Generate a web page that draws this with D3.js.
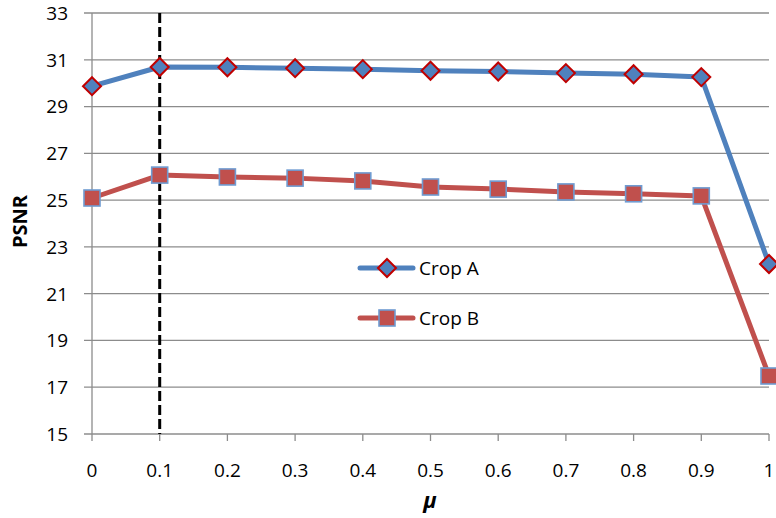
<!DOCTYPE html>
<html lang="en">
<head>
    <meta charset="UTF-8">
    <title>PSNR vs mu</title>
    <script src="https://d3js.org/d3.v7.min.js"></script>
    <style>
        body { margin: 0; background: #fff; }
        svg text { font-family: "Open Sans", "Lato", sans-serif; fill: #000; }
    </style>
</head>
<body>
    <div id="chart"></div>
    <script>
        // Data
        const muValues = [0, 0.1, 0.2, 0.3, 0.4, 0.5, 0.6, 0.7, 0.8, 0.9, 1];
        const cropA = [29.87, 30.69, 30.68, 30.64, 30.60, 30.53, 30.50, 30.43, 30.38, 30.26, 22.27];
        const cropB = [25.09, 26.07, 25.99, 25.94, 25.82, 25.56, 25.47, 25.35, 25.27, 25.18, 17.48];
        const xTicks = ["0", "0.1", "0.2", "0.3", "0.4", "0.5", "0.6", "0.7", "0.8", "0.9", "1"];
        const yTicks = [15, 17, 19, 21, 23, 25, 27, 29, 31, 33];
        const seriesNames = ["Crop A", "Crop B"];
        const markedMu = 0.1;

        const W = 776, H = 518;
        const plot = {left: 92, right: 769, top: 13, bottom: 434};

        const x = d3.scaleLinear().domain([0, 1]).range([plot.left, plot.right]);
        const y = d3.scaleLinear().domain([15, 33]).range([plot.bottom, plot.top]);

        const svg = d3.select("#chart").append("svg")
            .attr("width", W)
            .attr("height", H);

        // gridlines
        svg.append("g").selectAll("line")
            .data(yTicks)
            .join("line")
            .attr("x1", plot.left - 8)
            .attr("x2", plot.right)
            .attr("y1", d => y(d))
            .attr("y2", d => y(d))
            .attr("stroke", "#8c8c8c")
            .attr("stroke-width", 1.3);

        // y axis line
        svg.append("line")
            .attr("x1", plot.left).attr("x2", plot.left)
            .attr("y1", plot.top).attr("y2", plot.bottom)
            .attr("stroke", "#8c8c8c")
            .attr("stroke-width", 1.3);

        // x ticks
        svg.append("g").selectAll("line")
            .data(muValues)
            .join("line")
            .attr("x1", d => x(d)).attr("x2", d => x(d))
            .attr("y1", plot.bottom).attr("y2", plot.bottom + 7)
            .attr("stroke", "#8c8c8c")
            .attr("stroke-width", 1.3);

        // tick labels
        svg.append("g").selectAll("text")
            .data(yTicks)
            .join("text")
            .attr("x", plot.left - 24)
            .attr("y", d => y(d))
            .attr("dy", "0.36em")
            .attr("text-anchor", "end")
            .attr("font-size", "19px")
            .text(d => d);

        svg.append("g").selectAll("text")
            .data(muValues)
            .join("text")
            .attr("x", d => x(d))
            .attr("y", plot.bottom + 43)
            .attr("text-anchor", "middle")
            .attr("font-size", "19px")
            .text((d, i) => xTicks[i]);

        // axis titles
        svg.append("text")
            .attr("transform", `translate(27,${(plot.top + plot.bottom) / 2 - 2}) rotate(-90)`)
            .attr("text-anchor", "middle")
            .attr("font-size", "20px")
            .attr("font-weight", "bold")
            .text("PSNR");

        svg.append("text")
            .attr("x", 430)
            .attr("y", 508)
            .attr("text-anchor", "middle")
            .attr("font-size", "22px")
            .attr("font-weight", "bold")
            .attr("font-style", "italic")
            .text("μ");

        // dashed marker line
        svg.append("line")
            .attr("x1", x(markedMu)).attr("x2", x(markedMu))
            .attr("y1", plot.top).attr("y2", plot.bottom)
            .attr("stroke", "#000")
            .attr("stroke-width", 3)
            .attr("stroke-dasharray", "10,4");

        const line = d3.line()
            .x((d, i) => x(muValues[i]))
            .y(d => y(d));

        const blue = "#4f81bd", red = "#c0504d";

        function diamond(g, cx, cy) {
            g.append("path")
                .attr("d", `M${cx},${cy - 9}L${cx + 9},${cy}L${cx},${cy + 9}L${cx - 9},${cy}Z`)
                .attr("fill", blue)
                .attr("stroke", "#c00000")
                .attr("stroke-width", 2);
        }

        function square(g, cx, cy) {
            g.append("rect")
                .attr("x", cx - 8).attr("y", cy - 8)
                .attr("width", 16).attr("height", 16)
                .attr("fill", red)
                .attr("stroke", "#6f9bd1")
                .attr("stroke-width", 1.6);
        }

        // Crop A
        svg.append("path")
            .datum(cropA)
            .attr("d", line)
            .attr("fill", "none")
            .attr("stroke", blue)
            .attr("stroke-width", 5)
            .attr("stroke-linejoin", "round");
        const gA = svg.append("g");
        cropA.forEach((v, i) => diamond(gA, x(muValues[i]), y(v)));

        // Crop B
        svg.append("path")
            .datum(cropB)
            .attr("d", line)
            .attr("fill", "none")
            .attr("stroke", red)
            .attr("stroke-width", 5)
            .attr("stroke-linejoin", "round");
        const gB = svg.append("g");
        cropB.forEach((v, i) => square(gB, x(muValues[i]), y(v)));

        // legend
        const legend = svg.append("g");
        const legendY = [268, 318];
        [blue, red].forEach((c, i) => {
            legend.append("line")
                .attr("x1", 360).attr("x2", 413)
                .attr("y1", legendY[i]).attr("y2", legendY[i])
                .attr("stroke", c)
                .attr("stroke-width", 5)
                .attr("stroke-linecap", "round");
            if (i === 0) diamond(legend, 387, legendY[i]);
            else square(legend, 387, legendY[i]);
            legend.append("text")
                .attr("x", 419)
                .attr("y", legendY[i])
                .attr("dy", "0.36em")
                .attr("font-size", "19px")
                .text(seriesNames[i]);
        });
    </script>
</body>
</html>
